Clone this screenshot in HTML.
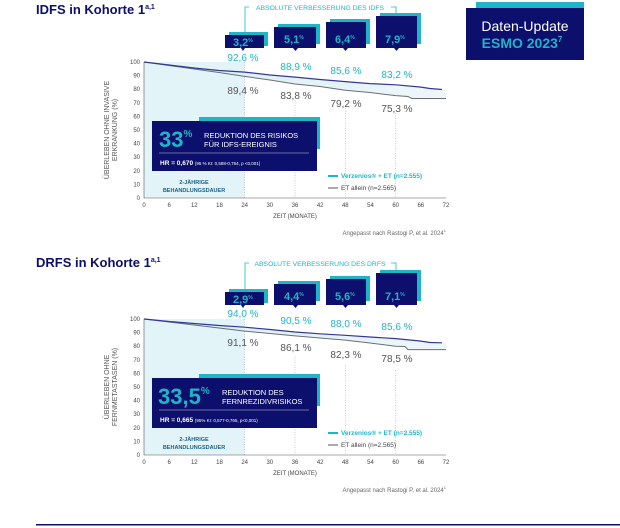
<!DOCTYPE html>
<html><head><meta charset="utf-8"><style>
html,body{margin:0;padding:0;background:#fff}
svg{display:block;font-family:"Liberation Sans",sans-serif}
</style></head><body>
<svg width="620" height="528" viewBox="0 0 620 528" xmlns="http://www.w3.org/2000/svg">
<defs>
<linearGradient id="gf" x1="0" x2="1" y1="0" y2="0"><stop offset="0" stop-color="#d6eef4"/><stop offset="1" stop-color="#eef7fa"/></linearGradient>
</defs>
<rect x="476" y="2" width="108" height="6" fill="#1fb5c9"/>
<rect x="466" y="8" width="118" height="52" fill="#0c0f6b"/>
<text x="525" y="31" font-size="14" fill="#fff" text-anchor="middle">Daten-Update</text>
<text x="522" y="48" font-size="14" font-weight="bold" fill="#1fb5c9" text-anchor="middle">ESMO 2023<tspan font-size="8" dy="-6">7</tspan></text>

<g id="c1">
<text x="36" y="14" font-size="13" font-weight="bold" fill="#0c0f6b">IDFS in Kohorte 1<tspan font-size="7" dy="-5">a,1</tspan></text>
<path d="M245 33 V7 H249 M391 7 H396 V14" stroke="#1fb5c9" fill="none" stroke-width="0.8"/>
<text x="320" y="10" font-size="6.8" fill="#1fb5c9" text-anchor="middle">ABSOLUTE VERBESSERUNG DES IDFS</text>
<g font-weight="bold" fill="#1fb5c9">
<rect x="229" y="32" width="39" height="14" fill="#1fb5c9"/><rect x="225" y="35" width="39" height="13" fill="#0c0f6b"/><path d="M241 48 h4 l-2 3z" fill="#0c0f6b"/>
<text x="233" y="46" font-size="11">3,2<tspan font-size="5" dy="-4">%</tspan></text>
<rect x="278" y="24" width="42" height="20" fill="#1fb5c9"/><rect x="274" y="27" width="42" height="21" fill="#0c0f6b"/><path d="M293 48 h5 l-2.5 3z" fill="#0c0f6b"/>
<text x="284" y="43" font-size="11">5,1<tspan font-size="5" dy="-4">%</tspan></text>
<rect x="330" y="19" width="40" height="25" fill="#1fb5c9"/><rect x="326" y="22" width="40" height="26" fill="#0c0f6b"/><path d="M343 48 h5 l-2.5 3z" fill="#0c0f6b"/>
<text x="335" y="43" font-size="11">6,4<tspan font-size="5" dy="-4">%</tspan></text>
<rect x="380" y="13" width="41" height="31" fill="#1fb5c9"/><rect x="376" y="16" width="41" height="32" fill="#0c0f6b"/><path d="M394 48 h5 l-2.5 3z" fill="#0c0f6b"/>
<text x="385" y="43" font-size="11">7,9<tspan font-size="5" dy="-4">%</tspan></text>
</g>
<rect x="144" y="62" width="100.7" height="136" fill="#e3f4f8"/>
<line x1="244.7" y1="62" x2="244.7" y2="198" stroke="#aaa" stroke-dasharray="1,1.5" stroke-width="0.6"/>
<g stroke="#aaa" stroke-dasharray="1,1.5" stroke-width="0.6">
<line x1="295" y1="100" x2="295" y2="198"/><line x1="345.3" y1="108" x2="345.3" y2="198"/><line x1="395.7" y1="113" x2="395.7" y2="198"/>
</g>
<path d="M144 62 L169 65 L194 68 L219 71 L244.7 72.1 L270 75 L295 77.1 L320 79.5 L345.3 81.6 L370 84 L395.7 84.8 L420 87 L442 90 L446 90 L446 98.5 L413 98.5 L410 96 L395.7 95.6 L370 92 L345.3 90.3 L320 86 L295 84 L270 80 L244.7 76.4 L219 73 L194 69 L169 66 Z" fill="url(#gf)"/>
<path d="M144 62 L169 65.5 L194 69 L219 72.5 L244.7 76.4 L270 80 L295 84 L320 86.5 L345.3 90.3 L370 92.5 L395.7 95.6 L408 96.5 L412 98.5 L446 98.5" stroke="#6b6e78" fill="none" stroke-width="1"/>
<path d="M144 62 L169 65 L194 68 L219 70.5 L244.7 72.1 L270 75 L295 77.1 L320 79.5 L345.3 81.6 L370 83.6 L395.7 84.8 L420 87 L430 88.5 L442 89.5" stroke="#34379a" fill="none" stroke-width="1.2"/>
<path d="M144 62 V198 H446" stroke="#555" fill="none" stroke-width="0.6"/>
<g font-size="6" fill="#444" text-anchor="end">
<text x="140" y="64">100</text><text x="140" y="77.6">90</text><text x="140" y="91.2">80</text><text x="140" y="104.8">70</text><text x="140" y="118.4">60</text><text x="140" y="132">50</text><text x="140" y="145.6">40</text><text x="140" y="159.2">30</text><text x="140" y="172.8">20</text><text x="140" y="186.4">10</text><text x="140" y="200">0</text>
</g>
<g font-size="6" fill="#444" text-anchor="middle">
<text x="144" y="207">0</text><text x="169.2" y="207">6</text><text x="194.3" y="207">12</text><text x="219.5" y="207">18</text><text x="244.7" y="207">24</text><text x="269.8" y="207">30</text><text x="295" y="207">36</text><text x="320.2" y="207">42</text><text x="345.3" y="207">48</text><text x="370.5" y="207">54</text><text x="395.7" y="207">60</text><text x="420.8" y="207">66</text><text x="446" y="207">72</text>
<text x="295" y="218">ZEIT (MONATE)</text>
</g>
<text x="446" y="235" font-size="6" fill="#666" text-anchor="end">Angepasst nach Rastogi P, et al. 2024<tspan font-size="4" dy="-3">1</tspan></text>
<g transform="translate(109,130) rotate(-90)" font-size="7" fill="#555" text-anchor="middle"><text y="0">ÜBERLEBEN OHNE INVASIVE</text><text y="8">ERKRANKUNG (%)</text></g>
<g font-size="10" text-anchor="middle" fill="#1fb5c9">
<text x="243" y="61">92,6 %</text><text x="296" y="70">88,9 %</text><text x="346" y="74">85,6 %</text><text x="397" y="78">83,2 %</text></g>
<g font-size="10" text-anchor="middle" fill="#555">
<text x="243" y="94">89,4 %</text><text x="296" y="99">83,8 %</text><text x="346" y="107">79,2 %</text><text x="397" y="112">75,3 %</text></g>
<rect x="199" y="117" width="121" height="32" fill="#1fb5c9"/>
<rect x="152" y="121" width="165" height="50" fill="#0c0f6b"/>
<text x="159" y="147" font-size="22" font-weight="bold" fill="#1fb5c9">33<tspan font-size="10" dy="-10">%</tspan></text>
<text x="204" y="138" font-size="7.5" fill="#fff">REDUKTION DES RISIKOS</text>
<text x="204" y="147" font-size="7.5" fill="#fff">FÜR IDFS-EREIGNIS</text>
<line x1="159" y1="153" x2="309" y2="153" stroke="#8a8cb5" stroke-width="0.8"/>
<text x="160" y="165" font-size="6.5" font-weight="bold" fill="#fff">HR = 0,670 <tspan font-size="4.5" font-weight="normal">(95 % KI: 0,588-0,764, p &lt;0,001)</tspan></text>
<text x="194" y="184" font-size="5.5" font-weight="bold" fill="#1a5f8a" text-anchor="middle">2-JÄHRIGE</text>
<text x="194" y="192" font-size="5.5" font-weight="bold" fill="#1a5f8a" text-anchor="middle">BEHANDLUNGSDAUER</text>
<line x1="328" y1="176" x2="338" y2="176" stroke="#1fb5c9" stroke-width="2"/>
<text x="341" y="178" font-size="6.5" font-weight="bold" fill="#1fb5c9">Verzenios® + ET (n=2.555)</text>
<line x1="328" y1="188" x2="338" y2="188" stroke="#555" stroke-width="1"/>
<text x="341" y="190" font-size="6.5" fill="#444">ET allein (n=2.565)</text>
</g>

<g transform="translate(0,257)">
<text x="36" y="10" font-size="13" font-weight="bold" fill="#0c0f6b">DRFS in Kohorte 1<tspan font-size="7" dy="-5">a,1</tspan></text>
<path d="M245 33 V6 H249 M391 6 H396 V13" stroke="#1fb5c9" fill="none" stroke-width="0.8"/>
<text x="320" y="9" font-size="6.8" fill="#1fb5c9" text-anchor="middle">ABSOLUTE VERBESSERUNG DES DRFS</text>
<g font-weight="bold" fill="#1fb5c9">
<rect x="229" y="32" width="39" height="14" fill="#1fb5c9"/><rect x="225" y="35" width="39" height="13" fill="#0c0f6b"/><path d="M241 48 h4 l-2 3z" fill="#0c0f6b"/>
<text x="233" y="46" font-size="11">2,9<tspan font-size="5" dy="-4">%</tspan></text>
<rect x="278" y="24" width="42" height="20" fill="#1fb5c9"/><rect x="274" y="27" width="42" height="21" fill="#0c0f6b"/><path d="M293 48 h5 l-2.5 3z" fill="#0c0f6b"/>
<text x="284" y="43" font-size="11">4,4<tspan font-size="5" dy="-4">%</tspan></text>
<rect x="330" y="19" width="40" height="25" fill="#1fb5c9"/><rect x="326" y="22" width="40" height="26" fill="#0c0f6b"/><path d="M343 48 h5 l-2.5 3z" fill="#0c0f6b"/>
<text x="335" y="43" font-size="11">5,6<tspan font-size="5" dy="-4">%</tspan></text>
<rect x="380" y="13" width="41" height="31" fill="#1fb5c9"/><rect x="376" y="16" width="41" height="32" fill="#0c0f6b"/><path d="M394 48 h5 l-2.5 3z" fill="#0c0f6b"/>
<text x="385" y="43" font-size="11">7,1<tspan font-size="5" dy="-4">%</tspan></text>
</g>
<rect x="144" y="62" width="100.7" height="136" fill="#e3f4f8"/>
<line x1="244.7" y1="62" x2="244.7" y2="198" stroke="#aaa" stroke-dasharray="1,1.5" stroke-width="0.6"/>
<g stroke="#aaa" stroke-dasharray="1,1.5" stroke-width="0.6">
<line x1="295" y1="100" x2="295" y2="198"/><line x1="345.3" y1="108" x2="345.3" y2="198"/><line x1="395.7" y1="113" x2="395.7" y2="198"/>
</g>
<path d="M144 62 L194 66 L244.7 70.2 L295 75 L345.3 78.3 L395.7 81.6 L420 84 L442 85.8 L446 85.8 L446 92.6 L410 92.6 L405 90 L395.7 89.2 L345.3 83.1 L295 78.9 L244.7 74.1 L194 68 Z" fill="url(#gf)"/>
<path d="M144 62 L169 65 L194 68 L219 71 L244.7 74.1 L270 76.5 L295 78.9 L320 81 L345.3 83.1 L370 86 L395.7 89.2 L405 89.5 L408 92.6 L446 92.6" stroke="#6b6e78" fill="none" stroke-width="1"/>
<path d="M144 62 L169 64.5 L194 66.5 L219 68.5 L244.7 70.2 L270 72.5 L295 75 L320 76.8 L345.3 78.3 L370 80 L395.7 81.6 L420 84 L430 85.5 L442 85.8" stroke="#34379a" fill="none" stroke-width="1.2"/>
<path d="M144 62 V198 H446" stroke="#555" fill="none" stroke-width="0.6"/>
<g font-size="6" fill="#444" text-anchor="end">
<text x="140" y="64">100</text><text x="140" y="77.6">90</text><text x="140" y="91.2">80</text><text x="140" y="104.8">70</text><text x="140" y="118.4">60</text><text x="140" y="132">50</text><text x="140" y="145.6">40</text><text x="140" y="159.2">30</text><text x="140" y="172.8">20</text><text x="140" y="186.4">10</text><text x="140" y="200">0</text>
</g>
<g font-size="6" fill="#444" text-anchor="middle">
<text x="144" y="207">0</text><text x="169.2" y="207">6</text><text x="194.3" y="207">12</text><text x="219.5" y="207">18</text><text x="244.7" y="207">24</text><text x="269.8" y="207">30</text><text x="295" y="207">36</text><text x="320.2" y="207">42</text><text x="345.3" y="207">48</text><text x="370.5" y="207">54</text><text x="395.7" y="207">60</text><text x="420.8" y="207">66</text><text x="446" y="207">72</text>
<text x="295" y="218">ZEIT (MONATE)</text>
</g>
<text x="446" y="235" font-size="6" fill="#666" text-anchor="end">Angepasst nach Rastogi P, et al. 2024<tspan font-size="4" dy="-3">1</tspan></text>
<g transform="translate(109,130) rotate(-90)" font-size="7" fill="#555" text-anchor="middle"><text y="0">ÜBERLEBEN OHNE</text><text y="8">FERNMETASTASEN (%)</text></g>
<g font-size="10" text-anchor="middle" fill="#1fb5c9">
<text x="243" y="60">94,0 %</text><text x="296" y="67">90,5 %</text><text x="346" y="70">88,0 %</text><text x="397" y="73">85,6 %</text></g>
<g font-size="10" text-anchor="middle" fill="#555">
<text x="243" y="89">91,1 %</text><text x="296" y="94">86,1 %</text><text x="346" y="101">82,3 %</text><text x="397" y="105">78,5 %</text></g>
<rect x="199" y="117" width="121" height="32" fill="#1fb5c9"/>
<rect x="152" y="121" width="165" height="50" fill="#0c0f6b"/>
<text x="158" y="147" font-size="22" font-weight="bold" fill="#1fb5c9">33,5<tspan font-size="10" dy="-10">%</tspan></text>
<text x="222" y="138" font-size="7.5" fill="#fff">REDUKTION DES</text>
<text x="222" y="147" font-size="7.5" fill="#fff">FERNREZIDIVRISIKOS</text>
<line x1="159" y1="153" x2="309" y2="153" stroke="#8a8cb5" stroke-width="0.8"/>
<text x="160" y="165" font-size="6.5" font-weight="bold" fill="#fff">HR = 0,665 <tspan font-size="4.5" font-weight="normal">(95% KI: 0,577-0,765, p&lt;0,001)</tspan></text>
<text x="194" y="184" font-size="5.5" font-weight="bold" fill="#1a5f8a" text-anchor="middle">2-JÄHRIGE</text>
<text x="194" y="192" font-size="5.5" font-weight="bold" fill="#1a5f8a" text-anchor="middle">BEHANDLUNGSDAUER</text>
<line x1="328" y1="176" x2="338" y2="176" stroke="#1fb5c9" stroke-width="2"/>
<text x="341" y="178" font-size="6.5" font-weight="bold" fill="#1fb5c9">Verzenios® + ET (n=2.555)</text>
<line x1="328" y1="188" x2="338" y2="188" stroke="#555" stroke-width="1"/>
<text x="341" y="190" font-size="6.5" fill="#444">ET allein (n=2.565)</text>
</g>
<rect x="36" y="524" width="584" height="1.5" fill="#0c0f6b"/>
</svg>
</body></html>
